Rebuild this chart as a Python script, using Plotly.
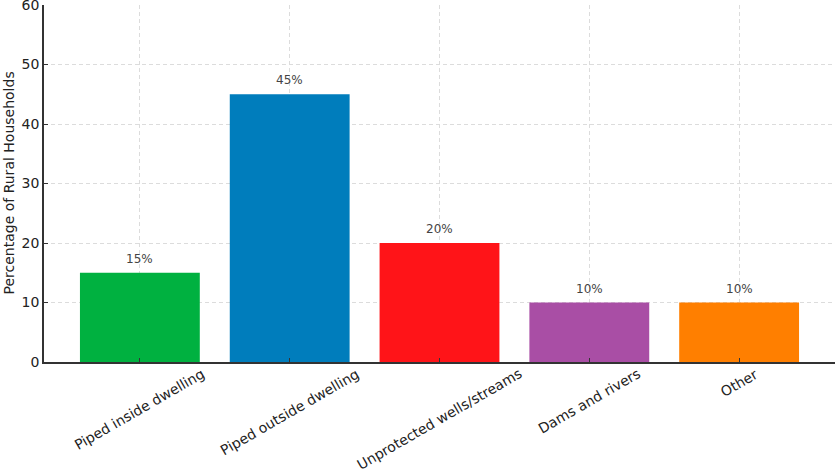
import plotly.graph_objects as go

categories = ["Piped inside dwelling", "Piped outside dwelling", "Unprotected wells/streams",
              "Dams and rivers", "Other"]
values = [15, 45, 20, 10, 10]
colors = ["#00B140", "#007DBC", "#FF1418", "#A94EA5", "#FF7F00"]
y_ticks = [0, 10, 20, 30, 40, 50, 60]

FONT = "DejaVu Sans"

fig = go.Figure()
fig.add_trace(go.Bar(
    x=categories, y=values, marker=dict(color=colors, line=dict(width=0)),
    width=0.8, hoverinfo="skip",
))

annotations = []
for c, v in zip(categories, values):
    annotations.append(dict(
        x=c, y=v, xref="x", yref="y", text=f"{v}%", showarrow=False,
        yanchor="bottom", xanchor="center", yshift=5,
        font=dict(family=FONT, size=12, color="#444444"),
    ))
    annotations.append(dict(
        x=c, y=0, xref="x", yref="paper", text=c, showarrow=False,
        textangle=-30, xanchor="center", yanchor="top", yshift=-1,
        font=dict(family=FONT, size=14, color="#222222"),
    ))

annotations.append(dict(
    x=0, y=0.5, xref="paper", yref="paper", xshift=-26,
    text="Percentage of Rural Households", showarrow=False, textangle=-90,
    xanchor="right", yanchor="middle",
    font=dict(family=FONT, size=14, color="#222222"),
))

fig.update_layout(
    width=837, height=472,
    margin=dict(l=44, r=2, t=5, b=110, autoexpand=False),
    paper_bgcolor="white", plot_bgcolor="white",
    showlegend=False,
    annotations=annotations,
    font=dict(family=FONT, size=14, color="#222222"),
)
fig.update_xaxes(
    range=[-0.64, 4.64], showticklabels=False, automargin=False,
    showgrid=True, gridcolor="#dcdcdc", griddash="4px,3px", gridwidth=1,
    showline=True, linecolor="#333333", linewidth=1.5,
    ticks="inside", ticklen=4, tickcolor="#333333",
)
fig.update_yaxes(
    range=[0, 60.0001], tickvals=y_ticks, automargin=False,
    ticklabeloverflow="allow",
    showgrid=True, gridcolor="#dcdcdc", griddash="4px,3px", gridwidth=1,
    showline=True, linecolor="#333333", linewidth=1.5,
    ticks="inside", ticklen=4, tickcolor="#333333",
    tickfont=dict(family=FONT, size=14, color="#222222"),
    zeroline=False,
)

fig.write_html("out.html", config={"displayModeBar": False},
               post_script="document.body.style.margin='0px';")
